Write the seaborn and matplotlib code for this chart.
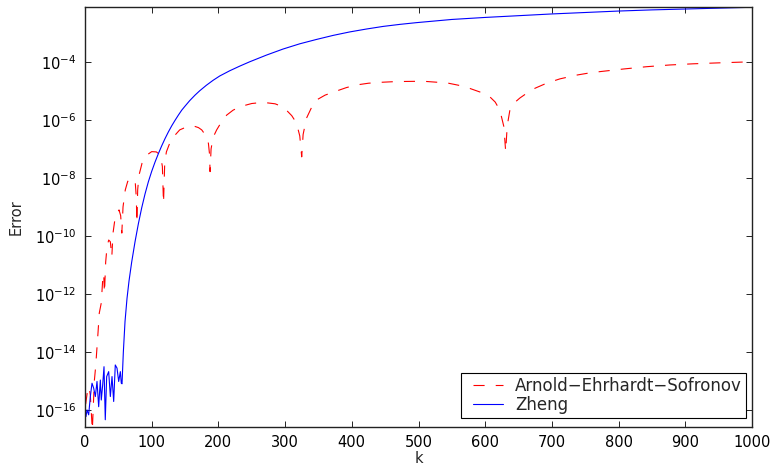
import numpy as np
import pandas as pd
import matplotlib
matplotlib.use("Agg")
import matplotlib.pyplot as plt
import seaborn as sns
from matplotlib.ticker import FixedLocator, FixedFormatter, NullLocator
from matplotlib.legend_handler import HandlerLine2D
from matplotlib.lines import Line2D

# ---- data (y values given as log10 of the error) ----
aes_k = [1, 4, 6, 8, 11, 14, 16, 19.5, 21.4, 24.4, 26.5, 28, 29.2, 31, 33, 35.5, 38,
         40.2, 42, 45.4, 51, 53.5, 55.2, 57, 60.4, 64, 68, 72, 75.4, 77, 77.7, 79,
         81, 85.5, 92, 100, 107, 113, 116, 117.7, 119.5, 122, 127, 135, 142, 152,
         162, 170, 175, 180, 185, 186.8, 187.5, 189, 192, 197.4, 205, 212.4, 222,
         232.4, 250, 267, 285, 295, 302, 310, 317, 322, 324.9, 327, 332, 340, 347,
         360, 377, 392, 407, 425, 442, 460, 477, 495, 512, 530, 545, 560, 577, 593,
         607, 615, 622, 628, 630.7, 633, 637, 645, 652, 662, 675, 692, 712, 737, 755,
         772, 807, 842, 877, 912, 947, 1000]
aes_log10_err = [-15.8, -15.3, -15.2, -15.5, -16.7, -15.0, -14.5, -13.34, -12.66,
                 -12.31, -11.52, -11.3, -11.97, -10.9, -10.38, -10.14, -10.2, -10.72,
                 -9.9, -9.33, -9.1, -9.3, -9.9, -9.0, -8.41, -8.12, -8.01, -8.03,
                 -8.17, -8.7, -9.55, -8.4, -7.9, -7.49, -7.22, -7.09, -7.1, -7.21,
                 -7.6, -8.87, -7.5, -7.1, -6.8, -6.52, -6.34, -6.24, -6.2, -6.26,
                 -6.34, -6.5, -6.8, -7.2, -7.78, -7.0, -6.6, -6.34, -6.05, -5.83,
                 -5.66, -5.54, -5.43, -5.39, -5.44, -5.53, -5.66, -5.85, -6.1, -6.55,
                 -7.27, -6.5, -5.94, -5.55, -5.31, -5.14, -5.0, -4.88, -4.79, -4.73,
                 -4.70, -4.68, -4.67, -4.665, -4.67, -4.7, -4.73, -4.8, -4.91, -5.04,
                 -5.2, -5.38, -5.66, -6.23, -7.09, -6.2, -5.66, -5.38, -5.24, -5.08,
                 -4.9, -4.73, -4.58, -4.45, -4.38, -4.33, -4.24, -4.16, -4.10, -4.06,
                 -4.03, -3.99]

zheng_k = [1.5, 3, 5.5, 8, 10.5, 13, 15.5, 18, 20.5, 23, 24.4, 26.5, 28.5, 30.4, 32.5,
           35.5, 38, 40.5, 43, 45.4, 48, 50.5, 53, 54.4, 55.5, 57.5, 60, 63, 66, 70,
           75, 80, 85, 90, 95, 100, 105, 110, 115, 120, 125, 130, 135, 140, 145, 150,
           157, 165, 172, 182, 192, 202, 217, 232, 247, 272, 297, 322, 347, 372, 397,
           422, 447, 472, 497, 550, 600, 650, 700, 750, 800, 850, 900, 950, 1000]
zheng_log10_err = [-16.23, -16.0, -16.17, -15.54, -15.08, -15.25, -15.54, -15.02,
                   -15.89, -14.97, -15.66, -15.14, -14.51, -16.34, -14.85, -14.68,
                   -15.54, -14.85, -15.71, -14.45, -14.56, -15.02, -14.68, -15.08,
                   -15.1, -14.0, -12.95, -12.15, -11.55, -10.9, -10.2, -9.58, -9.03,
                   -8.55, -8.13, -7.77, -7.45, -7.16, -6.89, -6.64, -6.41, -6.2, -6.01,
                   -5.83, -5.66, -5.52, -5.33, -5.14, -4.99, -4.8, -4.63, -4.48, -4.3,
                   -4.14, -3.99, -3.76, -3.55, -3.37, -3.22, -3.08, -2.96, -2.86, -2.77,
                   -2.70, -2.64, -2.53, -2.46, -2.40, -2.34, -2.29, -2.24, -2.20, -2.17,
                   -2.14, -2.11]

series_names = ["Arnold\u2212Ehrhardt\u2212Sofronov", "Zheng"]
x_ticks = [0, 100, 200, 300, 400, 500, 600, 700, 800, 900, 1000]
y_tick_exps = [-16, -14, -12, -10, -8, -6, -4]

# ---- styling ----
sns.set_style("ticks")
plt.rcParams["font.family"] = ["DejaVu Sans"]
plt.rcParams["mathtext.fontset"] = "dejavusans"
plt.rcParams["lines.scale_dashes"] = False

df_aes = pd.DataFrame({"k": aes_k, "err": 10.0 ** np.array(aes_log10_err)})
df_zh = pd.DataFrame({"k": zheng_k, "err": 10.0 ** np.array(zheng_log10_err)})

fig = plt.figure(figsize=(7.73, 4.66), dpi=100)
ax = fig.add_axes([85 / 773, 1 - 426.7 / 466, (752 - 85) / 773, (426.7 - 6.7) / 466])

sns.lineplot(data=df_aes, x="k", y="err", ax=ax, color=(1, 0, 0), linewidth=0.8,
             linestyle=(0, (8, 8)), label=series_names[0], estimator=None,
             sort=False)
sns.lineplot(data=df_zh, x="k", y="err", ax=ax, color=(0, 0, 1), linewidth=0.8,
             label=series_names[1], estimator=None, sort=False)

ax.set_yscale("log")
ax.set_xlim(0, 1000)
ax.set_ylim(10 ** -16.58, 10 ** -2.09)

ax.xaxis.set_major_locator(FixedLocator(x_ticks))
ax.yaxis.set_major_locator(FixedLocator([10.0 ** e for e in y_tick_exps]))
ax.yaxis.set_major_formatter(FixedFormatter([r"$10^{%d}$" % e for e in y_tick_exps]))
ax.yaxis.set_minor_locator(NullLocator())
ax.xaxis.set_minor_locator(NullLocator())

ax.tick_params(axis="both", which="major", direction="in", length=4.5, width=0.6,
               top=True, right=True, labelsize=10.5, colors="black", pad=6)
for sp in ax.spines.values():
    sp.set_visible(True)
    sp.set_linewidth(1.0)
    sp.set_color("#222222")

ax.set_xlabel("k", fontsize=10.5, labelpad=1)
ax.set_ylabel("Error", fontsize=10.5, labelpad=8)

handles, labels = ax.get_legend_handles_labels()
leg = ax.legend(handles, labels, loc="lower right",
                bbox_to_anchor=((746 - 85) / 667, (426.7 - 418) / 420),
                borderaxespad=0, fontsize=12, frameon=True, fancybox=False,
                edgecolor="black", framealpha=1, borderpad=0.25, labelspacing=0.05,
                handlelength=2.28, handletextpad=0.72,
                handler_map={Line2D: HandlerLine2D(xpad=0.48)})
leg.get_frame().set_linewidth(0.8)

fig.savefig("out.png", dpi=100)
